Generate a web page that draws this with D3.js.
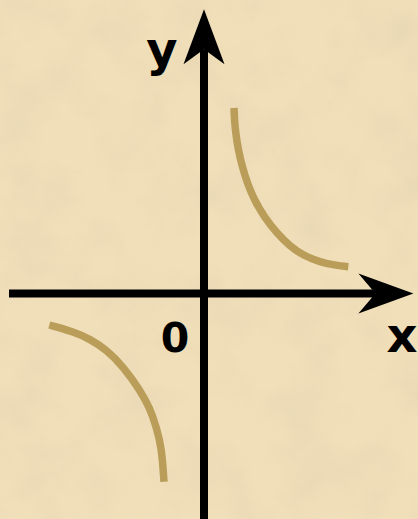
<!DOCTYPE html>
<html>
<head>
<meta charset="utf-8">
<script src="https://cdn.jsdelivr.net/npm/d3@7"></script>
<style>
  html, body { margin: 0; padding: 0; background: #eedcb5; }
  svg { display: block; }
</style>
</head>
<body>
<script>
const width = 418, height = 519;

// axis extents in chart units (origin at 0,0)
const xAxisExtent = [-9.75, 10.47];
const yAxisExtent = [-11.4, 14.21];

// the two branches
const upperBranch = [
  [1.5, 9.275], [1.525, 8.675], [1.585, 8.025], [1.715, 7.175], [1.915, 6.325],
  [2.165, 5.525], [2.515, 4.675], [3.015, 3.825], [3.635, 3.025], [4.3, 2.36],
  [4.965, 1.905], [5.8, 1.565], [6.635, 1.4], [7.215, 1.335]
];
const lowerBranch = [
  [-7.735, -1.575], [-6.535, -1.91], [-5.7, -2.275], [-4.865, -2.825],
  [-4.035, -3.66], [-3.2, -4.825], [-2.7, -5.74], [-2.365, -6.74],
  [-2.115, -7.74], [-2.0, -9.41]
];

const labels = [
  { text: "y", x: -2.1, y: 11.4, size: 48 },
  { text: "x", x: 9.9, y: -2.93, size: 48 },
  { text: "0", x: -1.45, y: -2.93, size: 41 }
];

const xScale = d3.scaleLinear().domain([-10, 10]).range([4, 404]);
const yScale = d3.scaleLinear().domain([-10, 10]).range([493.5, 93.5]);

const svg = d3.select("body").append("svg")
  .attr("width", width)
  .attr("height", height);

// parchment texture
const defs = svg.append("defs");
const paper = defs.append("filter").attr("id", "paper")
  .attr("x", 0).attr("y", 0).attr("width", "100%").attr("height", "100%");
paper.append("feTurbulence")
  .attr("type", "fractalNoise")
  .attr("baseFrequency", "0.018")
  .attr("numOctaves", 4)
  .attr("seed", 7);
paper.append("feColorMatrix")
  .attr("type", "matrix")
  .attr("values", "0 0 0 0 0.70  0 0 0 0 0.58  0 0 0 0 0.40  1.1 0 0 0 -0.45");

svg.append("rect")
  .attr("width", width).attr("height", height)
  .attr("fill", "#f0dfb9");
svg.append("rect")
  .attr("width", width).attr("height", height)
  .attr("filter", "url(#paper)")
  .attr("opacity", 0.55);

// curves
const line = d3.line()
  .x(function(d) { return xScale(d[0]); })
  .y(function(d) { return yScale(d[1]); })
  .curve(d3.curveBasis);

svg.append("g")
  .selectAll("path")
  .data([upperBranch, lowerBranch])
  .enter()
  .append("path")
  .attr("d", line)
  .attr("fill", "none")
  .attr("stroke", "#b99d59")
  .attr("stroke-width", 7.5)
  .attr("stroke-linecap", "butt");

// axes with notched arrowheads
const axes = svg.append("g").attr("fill", "#000").attr("stroke", "#000");
const x0 = xScale(0), y0 = yScale(0);

const xTip = xScale(xAxisExtent[1]);
axes.append("line")
  .attr("x1", xScale(xAxisExtent[0])).attr("x2", xTip - 38)
  .attr("y1", y0).attr("y2", y0)
  .attr("stroke-width", 8);
axes.append("path")
  .attr("stroke", "none")
  .attr("d", "M" + xTip + "," + y0 +
    "L" + (xTip - 55) + "," + (y0 - 20) +
    "L" + (xTip - 38) + "," + y0 +
    "L" + (xTip - 55) + "," + (y0 + 20) + "Z");

const yTip = yScale(yAxisExtent[1]);
axes.append("line")
  .attr("x1", x0).attr("x2", x0)
  .attr("y1", yScale(yAxisExtent[0])).attr("y2", yTip + 40)
  .attr("stroke-width", 8);
axes.append("path")
  .attr("stroke", "none")
  .attr("d", "M" + x0 + "," + yTip +
    "L" + (x0 - 20.5) + "," + (yTip + 55) +
    "L" + x0 + "," + (yTip + 40) +
    "L" + (x0 + 20.5) + "," + (yTip + 55) + "Z");

// labels
svg.append("g")
  .selectAll("text")
  .data(labels)
  .enter()
  .append("text")
  .attr("x", function(d) { return xScale(d.x); })
  .attr("y", function(d) { return yScale(d.y); })
  .attr("text-anchor", "middle")
  .attr("font-family", "DejaVu Sans")
  .attr("font-weight", "bold")
  .attr("font-size", function(d) { return d.size; })
  .attr("fill", "#000")
  .text(function(d) { return d.text; });
</script>
</body>
</html>
